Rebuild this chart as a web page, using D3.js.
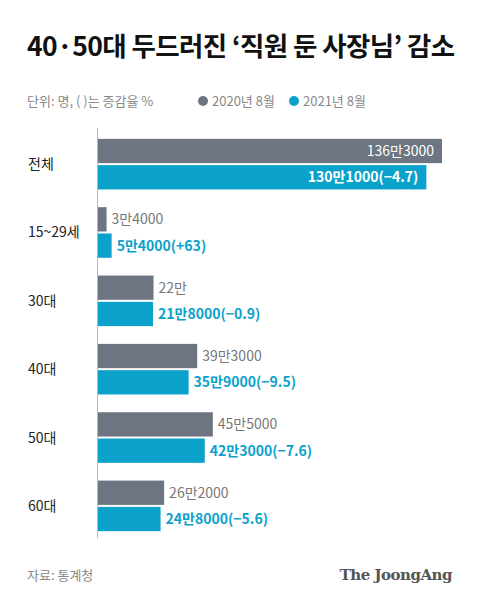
<!DOCTYPE html>
<html><head><meta charset="utf-8">
<script src="https://cdn.jsdelivr.net/npm/d3@7"></script>
<style>body{margin:0;background:#fff}svg{display:block;font-family:"Noto Sans CJK KR","Noto Sans",sans-serif}</style>
</head><body><svg></svg>
<script>
const categories = ["전체", "15~29세", "30대", "40대", "50대", "60대"];
const values2020 = [1363000, 34000, 220000, 393000, 455000, 262000];
const values2021 = [1301000, 54000, 218000, 359000, 423000, 248000];
const labels2020 = ["136만3000", "3만4000", "22만", "39만3000", "45만5000", "26만2000"];
const labels2021 = ["130만1000(−4.7)", "5만4000(+63)", "21만8000(−0.9)", "35만9000(−9.5)", "42만3000(−7.6)", "24만8000(−5.6)"];
const seriesNames = ["2020년 8월", "2021년 8월"];

const width = 480, height = 604;
const gray = "#6c7581", blue = "#0aa2cb";

const svg = d3.select("svg").attr("width", width).attr("height", height);

svg.append("text").attr("x", 27).attr("y", 56)
  .attr("font-size", 26.5).attr("font-weight", 700).attr("fill", "#111")
  .attr("letter-spacing", -0.6)
  .text("40·50대 두드러진 ‘직원 둔 사장님’ 감소");

svg.append("text").attr("x", 27).attr("y", 106).attr("font-size", 13).attr("fill", "#888")
  .text("단위: 명, ( )는 증감율 %");

[[gray, 203], [blue, 294]].forEach(([c, x], i) => {
  svg.append("circle").attr("cx", x).attr("cy", 101).attr("r", 5).attr("fill", c);
  svg.append("text").attr("x", x + 9).attr("y", 106).attr("font-size", 13).attr("fill", "#888").text(seriesNames[i]);
});

const x = d3.scaleLinear().domain([0, 1363000]).range([98, 442]);
const y = d3.scaleBand().domain(categories).range([132, 538]).paddingInner(0.26).paddingOuter(0.1);
const bh = y.bandwidth() / 2 - 1;

svg.append("line").attr("x1", 97.5).attr("x2", 97.5).attr("y1", 128).attr("y2", 538)
  .attr("stroke", "#bbb");

const g = svg.append("g").selectAll("g").data(categories).join("g")
  .attr("transform", d => `translate(0,${y(d)})`);

g.append("text").attr("x", 28).attr("y", y.bandwidth() / 2 + 5)
  .attr("font-size", 14).attr("fill", "#222").text(d => d);

g.append("rect").attr("x", 98).attr("y", 0).attr("height", bh)
  .attr("width", (d, i) => x(values2020[i]) - 98).attr("fill", gray);
g.append("rect").attr("x", 98).attr("y", bh + 2).attr("height", bh)
  .attr("width", (d, i) => x(values2021[i]) - 98).attr("fill", blue);

g.append("text").attr("font-size", 14)
  .attr("x", (d, i) => i === 0 ? x(values2020[i]) - 8 : x(values2020[i]) + 5)
  .attr("y", bh / 2 + 5)
  .attr("text-anchor", (d, i) => i === 0 ? "end" : "start")
  .attr("fill", (d, i) => i === 0 ? "#fff" : "#777")
  .text((d, i) => labels2020[i]);

g.append("text").attr("font-size", 14).attr("font-weight", 700)
  .attr("x", (d, i) => i === 0 ? x(values2021[i]) - 8 : x(values2021[i]) + 5)
  .attr("y", bh + 2 + bh / 2 + 5)
  .attr("text-anchor", (d, i) => i === 0 ? "end" : "start")
  .attr("fill", (d, i) => i === 0 ? "#fff" : blue)
  .text((d, i) => labels2021[i]);

svg.append("text").attr("x", 27).attr("y", 580).attr("font-size", 13).attr("fill", "#888").text("자료: 통계청");
svg.append("text").attr("x", 452).attr("y", 580).attr("text-anchor", "end")
  .attr("font-family", "DejaVu Serif, serif").attr("font-weight", 700).attr("font-size", 15)
  .attr("fill", "#555").attr("letter-spacing", -0.5).text("The JoongAng");
</script></body></html>
